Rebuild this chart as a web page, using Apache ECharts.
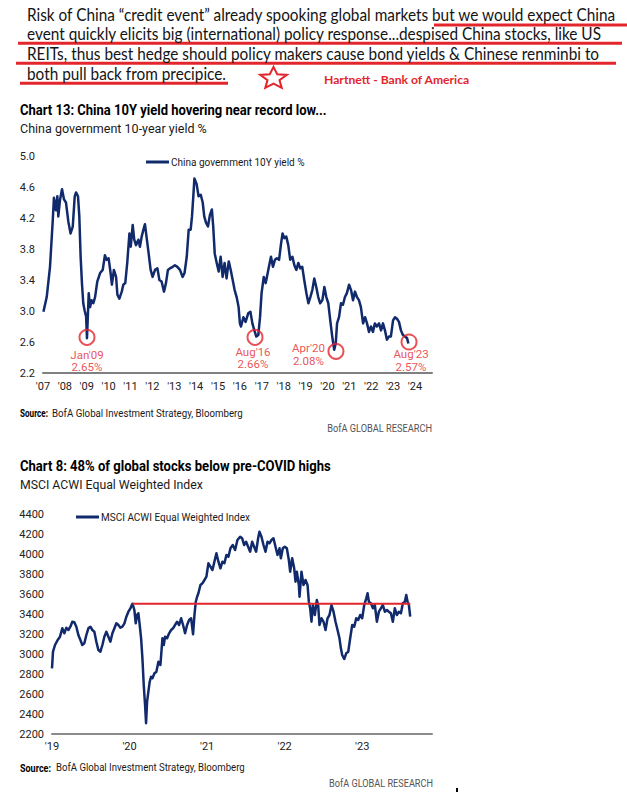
<!DOCTYPE html>
<html><head><meta charset="utf-8">
<script src="https://cdn.jsdelivr.net/npm/echarts@6/dist/echarts.min.js"></script>
<style>html,body{margin:0;padding:0;background:#fff}#c{width:627px;height:792px}</style>
</head><body><div id="c"></div>
<script>
// ---------- text ----------
const headlineLines = [
  'Risk of China \u201ccredit event\u201d already spooking global markets but we would expect China',
  'event quickly elicits big (international) policy response...despised China stocks, like US',
  'REITs, thus best hedge should policy makers cause bond yields & Chinese renminbi to',
  'both pull back from precipice.'
];
const attribution = 'Hartnett - Bank of America';
const chart13Title = 'Chart 13: China 10Y yield hovering near record low...';
const chart13Subtitle = 'China government 10-year yield %';
const chart13Series = 'China government 10Y yield %';
const chart8Title = 'Chart 8: 48% of global stocks below pre-COVID highs';
const chart8Subtitle = 'MSCI ACWI Equal Weighted Index';
const chart8Series = 'MSCI ACWI Equal Weighted Index';
const sourceLabel = 'Source:';
const sourceText = 'BofA Global Investment Strategy, Bloomberg';
const brandText = 'BofA GLOBAL RESEARCH';

// ---------- Chart 13 data (decimal year, %) ----------
const yieldTimes = [2007.02,2007.17,2007.32,2007.44,2007.50,2007.59,2007.655,2007.70,2007.78,2007.87,2007.96,2008.05,2008.16,2008.26,2008.36,2008.45,2008.51,2008.60,2008.66,2008.72,2008.78,2008.84,2008.90,2008.97,2009.01,2009.09,2009.15,2009.22,2009.30,2009.38,2009.48,2009.61,2009.73,2009.83,2009.91,2010.00,2010.09,2010.15,2010.24,2010.34,2010.40,2010.49,2010.60,2010.67,2010.76,2010.85,2010.95,2011.01,2011.10,2011.17,2011.25,2011.36,2011.43,2011.51,2011.59,2011.66,2011.74,2011.83,2011.92,2012.01,2012.12,2012.23,2012.32,2012.42,2012.53,2012.62,2012.71,2012.80,2012.93,2013.03,2013.14,2013.26,2013.38,2013.47,2013.57,2013.66,2013.75,2013.81,2013.87,2013.92,2014.02,2014.11,2014.21,2014.30,2014.37,2014.45,2014.54,2014.63,2014.72,2014.78,2014.85,2014.94,2015.03,2015.12,2015.21,2015.30,2015.39,2015.49,2015.58,2015.67,2015.76,2015.85,2015.94,2016.00,2016.05,2016.16,2016.26,2016.38,2016.48,2016.57,2016.66,2016.75,2016.84,2016.92,2016.99,2017.09,2017.18,2017.27,2017.36,2017.42,2017.51,2017.60,2017.69,2017.79,2017.88,2017.95,2018.03,2018.12,2018.21,2018.30,2018.40,2018.49,2018.58,2018.67,2018.76,2018.85,2018.94,2019.04,2019.13,2019.22,2019.31,2019.40,2019.49,2019.58,2019.67,2019.77,2019.86,2019.95,2020.04,2020.13,2020.22,2020.31,2020.38,2020.44,2020.53,2020.62,2020.71,2020.80,2020.89,2020.99,2021.08,2021.17,2021.26,2021.35,2021.44,2021.53,2021.63,2021.72,2021.81,2021.90,2021.99,2022.08,2022.17,2022.26,2022.36,2022.45,2022.54,2022.63,2022.72,2022.81,2022.90,2023.00,2023.09,2023.18,2023.27,2023.36,2023.45,2023.54,2023.64,2023.70];
const yieldValues = [2.99,3.18,3.57,4.14,4.46,4.30,4.48,4.22,4.44,4.57,4.44,4.40,4.15,4.00,4.09,4.48,4.53,4.48,4.22,3.70,3.36,3.10,3.01,2.93,2.65,3.23,3.05,3.14,3.10,3.18,3.38,3.49,3.53,3.72,3.66,3.68,3.49,3.34,3.53,3.44,3.21,3.16,3.25,3.34,3.36,3.62,4.00,3.83,4.11,3.92,3.85,3.92,3.83,3.96,4.05,4.12,3.94,3.74,3.53,3.44,3.53,3.55,3.40,3.38,3.25,3.36,3.53,3.55,3.57,3.59,3.57,3.53,3.44,3.49,3.70,4.05,4.05,4.22,4.48,4.71,4.64,4.48,4.50,4.40,4.22,4.14,4.09,4.24,4.31,4.09,3.74,3.62,3.51,3.70,3.44,3.62,3.42,3.64,3.53,3.40,3.27,3.18,3.05,2.84,2.80,2.92,2.86,2.97,2.99,2.84,2.75,2.67,2.69,2.92,3.23,3.44,3.36,3.49,3.62,3.70,3.57,3.66,3.68,3.66,3.87,4.00,3.94,3.96,3.85,3.66,3.70,3.59,3.53,3.62,3.55,3.57,3.40,3.23,3.10,3.18,3.27,3.42,3.31,3.18,3.10,3.14,3.31,3.18,3.10,2.88,2.67,2.50,2.58,2.84,2.92,3.10,3.08,3.18,3.23,3.34,3.27,3.14,3.25,3.18,3.14,3.05,2.84,2.92,2.84,2.73,2.80,2.73,2.84,2.80,2.84,2.75,2.84,2.75,2.63,2.67,2.67,2.88,2.92,2.90,2.86,2.75,2.69,2.67,2.65,2.58];
const yieldTickYears = [2007,2008,2009,2010,2011,2012,2013,2014,2015,2016,2017,2018,2019,2020,2021,2022,2023,2024];
const yieldTickValues = [2.2,2.6,3.0,3.4,3.8,4.2,4.6,5.0];
const yieldAxisMin = 2.2, yieldAxisMax = 5.0, yieldYearMin = 2007, yieldYearMax = 2024.78;
const lowTimes = [2009.01, 2016.69, 2020.39, 2023.73];
const lowValues = [2.66, 2.66, 2.48, 2.60];
const lowLabels = ["Jan'09\n2.65%", "Aug'16\n2.66%", "Apr'20\n2.08%", "Aug'23\n2.57%"];

// ---------- Chart 8 data (decimal year, index) ----------
const acwiTimes = [2019.000,2019.013,2019.039,2019.073,2019.103,2019.133,2019.159,2019.185,2019.211,2019.237,2019.262,2019.288,2019.314,2019.340,2019.366,2019.391,2019.417,2019.443,2019.469,2019.495,2019.520,2019.546,2019.572,2019.598,2019.624,2019.650,2019.675,2019.701,2019.727,2019.753,2019.779,2019.805,2019.830,2019.856,2019.882,2019.908,2019.934,2019.959,2019.985,2020.011,2020.037,2020.062,2020.080,2020.097,2020.114,2020.131,2020.149,2020.166,2020.183,2020.200,2020.213,2020.226,2020.243,2020.260,2020.277,2020.295,2020.321,2020.346,2020.372,2020.398,2020.424,2020.441,2020.458,2020.484,2020.510,2020.536,2020.561,2020.587,2020.613,2020.639,2020.665,2020.690,2020.716,2020.742,2020.768,2020.794,2020.819,2020.837,2020.854,2020.871,2020.888,2020.914,2020.940,2020.966,2020.991,2021.017,2021.043,2021.069,2021.094,2021.120,2021.146,2021.172,2021.198,2021.223,2021.249,2021.275,2021.301,2021.331,2021.361,2021.391,2021.426,2021.452,2021.477,2021.503,2021.529,2021.555,2021.581,2021.606,2021.632,2021.658,2021.675,2021.701,2021.727,2021.753,2021.779,2021.804,2021.830,2021.856,2021.882,2021.908,2021.934,2021.951,2021.976,2022.002,2022.028,2022.054,2022.071,2022.097,2022.123,2022.140,2022.157,2022.183,2022.192,2022.217,2022.243,2022.269,2022.295,2022.312,2022.329,2022.346,2022.363,2022.389,2022.415,2022.432,2022.449,2022.475,2022.501,2022.527,2022.553,2022.578,2022.604,2022.630,2022.656,2022.682,2022.707,2022.725,2022.742,2022.768,2022.794,2022.820,2022.845,2022.871,2022.897,2022.923,2022.948,2022.974,2023.000,2023.026,2023.052,2023.069,2023.086,2023.112,2023.138,2023.163,2023.189,2023.215,2023.241,2023.266,2023.292,2023.318,2023.344,2023.370,2023.395,2023.421,2023.447,2023.473,2023.499,2023.524,2023.550,2023.568,2023.585,2023.602,2023.619];
const acwiValues = [2857,3023,3090,3140,3173,3257,3207,3263,3240,3273,3323,3317,3273,3190,3140,3090,3107,3190,3257,3273,3240,3223,3123,3040,3023,3090,3173,3223,3173,3123,3207,3257,3307,3290,3263,3273,3307,3373,3423,3457,3503,3440,3307,3390,3407,3290,3157,2957,2690,2490,2307,2523,2623,2723,2773,2757,2807,2823,2923,2890,3157,3090,3173,3157,3207,3240,3257,3290,3323,3290,3357,3290,3207,3290,3340,3357,3197,3390,3523,3573,3607,3690,3707,3740,3773,3907,3873,3840,3923,4007,3923,3857,3923,3907,3990,3973,4057,4090,4040,4140,4173,4157,4090,4123,4073,4023,4123,4073,4023,4157,4223,4173,4090,4023,4123,4107,4140,4157,4073,3990,4057,3957,4057,4073,4057,3940,3823,3957,3857,3723,3823,3690,3573,3823,3690,3740,3690,3523,3457,3323,3490,3390,3540,3490,3290,3357,3323,3240,3357,3390,3490,3423,3323,3240,3157,3057,2990,2950,3007,3023,3157,3290,3273,3357,3340,3390,3357,3490,3557,3607,3523,3507,3457,3490,3323,3423,3457,3490,3423,3440,3423,3407,3323,3457,3390,3423,3407,3507,3523,3590,3523,3490,3373];
const acwiTickYears = [2019,2020,2021,2022,2023];
const acwiTickValues = [2200,2400,2600,2800,3000,3200,3400,3600,3800,4000,4200,4400];
const acwiAxisMin = 2200, acwiAxisMax = 4400, acwiYearMin = 2019, acwiYearMax = 2023.9;
const preCovidHighTimes = [2020.04, 2023.62];
const preCovidHighValue = 3503;

// ---------- styling ----------
const HEAD_FONT = 'Lato, "Open Sans", sans-serif';
const CHART_FONT = 'Roboto, "Liberation Sans", sans-serif';
const NAVY = '#112a6c';
const RED = '#e3262c';
const ctx = document.createElement('canvas').getContext('2d');
function measure(text, family, weight, size) {
  ctx.font = weight + ' ' + size + 'px ' + family;
  return ctx.measureText(text).width;
}
// text drawn at a given size, squeezed horizontally to the reference width
function stxt(x, y, text, family, weight, size, width, o) {
  const sx = width / measure(text, family, weight, size);
  return { type: 'text', x: x, y: y, scaleX: sx, scaleY: 1, silent: true, z: 10,
    style: Object.assign({ text: text, fontSize: size, fontFamily: family, fontWeight: weight,
      fill: '#000', align: 'left', verticalAlign: 'middle' }, o || {}) };
}
function hline(x1, x2, y, w, c) {
  return { type: 'line', silent: true, shape: { x1: x1, y1: y, x2: x2, y2: y }, style: { stroke: c, lineWidth: w } };
}
function starPoints(cx, cy, rx, ry, ratio) {
  const p = [];
  for (let i = 0; i < 10; i++) {
    const a = -Math.PI / 2 + i * Math.PI / 5;
    const k = i % 2 ? ratio : 1;
    p.push([cx + Math.cos(a) * rx * k, cy + Math.sin(a) * ry * k]);
  }
  return p;
}

const headY = [14.2, 33.4, 53.3, 72.9];
const headW = [590, 575, 573, 199];
const graphics = [];
const headSx = 590 / measure(headlineLines[0], HEAD_FONT, 'normal', 16.5);
headlineLines.forEach((l, i) => graphics.push({ type: 'text', x: 27, y: headY[i], scaleX: headSx, silent: true, z: 10,
  style: { text: l, fontSize: 16.5, fontFamily: HEAD_FONT, fill: '#141414', align: 'left', verticalAlign: 'middle' } }));
graphics.push(hline(434, 627, 25, 3, RED));
graphics.push(hline(18, 622, 43.3, 3, RED));
graphics.push(hline(16, 616, 63.3, 3, RED));
graphics.push(hline(20, 228, 83.3, 3, RED));
graphics.push({ type: 'polygon', silent: true, shape: { points: starPoints(273.5, 78.5, 14, 11.6, 0.45) },
  style: { fill: 'none', stroke: RED, lineWidth: 2 } });
graphics.push(stxt(324, 79.3, attribution, HEAD_FONT, 'bold', 11, 146, { fill: RED }));

// chart 13 texts
graphics.push(stxt(20, 110, chart13Title, CHART_FONT, 'bold', 14.5, 307));
graphics.push(stxt(20, 128.8, chart13Subtitle, CHART_FONT, 'normal', 13.5, 187, { fill: '#1a1a1a' }));
graphics.push(stxt(20, 413.3, sourceLabel, CHART_FONT, 'bold', 11, 28));
graphics.push(stxt(52, 413.3, sourceText, CHART_FONT, 'normal', 11, 191, { fill: '#1a1a1a' }));
graphics.push(stxt(432, 428, brandText, CHART_FONT, 'normal', 10.5, 105, { fill: '#555', align: 'right' }));
// chart 8 texts
graphics.push(stxt(20, 465.3, chart8Title, CHART_FONT, 'bold', 14.5, 311));
graphics.push(stxt(20, 483.8, chart8Subtitle, CHART_FONT, 'normal', 13.5, 183, { fill: '#1a1a1a' }));
graphics.push(stxt(20, 767.7, sourceLabel, CHART_FONT, 'bold', 11, 31));
graphics.push(stxt(56, 767.7, sourceText, CHART_FONT, 'normal', 11, 189, { fill: '#1a1a1a' }));
graphics.push(stxt(433, 783, brandText, CHART_FONT, 'normal', 10.5, 104, { fill: '#555', align: 'right' }));
graphics.push({ type: 'rect', silent: true, shape: { x: 456, y: 788, width: 2, height: 4 }, style: { fill: '#000' } });

const lowOffsets = [[0, 23.5], [-2, 20.4], [-27.5, 3], [2, 18.5]];
const axisLabelBase = { fontFamily: CHART_FONT, fontSize: 11, color: '#222' };
const legendFont = { fontFamily: CHART_FONT, fontSize: 10, color: '#1a1a1a' };

const option = {
  animation: false,
  backgroundColor: '#fff',
  graphic: graphics,
  legend: [
    { data: [chart13Series], left: 146, top: 157, itemWidth: 23, itemHeight: 3, itemGap: 0, icon: 'rect', padding: 0,
      textStyle: Object.assign({ padding: [0, 0, 0, -3] }, legendFont) },
    { data: [chart8Series], left: 76, top: 512, itemWidth: 23, itemHeight: 3, itemGap: 0, icon: 'rect', padding: 0,
      textStyle: Object.assign({ padding: [0, 0, 0, -3] }, legendFont) }
  ],
  grid: [
    { left: 43, top: 156, width: 389, height: 217, containLabel: false, outerBoundsMode: 'none' },
    { left: 52, top: 514, width: 380, height: 220, containLabel: false, outerBoundsMode: 'none' }
  ],
  xAxis: [
    { type: 'value', gridIndex: 0, min: yieldYearMin, max: yieldYearMax,
      axisLine: { show: true, onZero: false, lineStyle: { color: '#808080', width: 2 } },
      axisTick: { show: false }, splitLine: { show: false },
      axisLabel: Object.assign({ customValues: yieldTickYears, margin: 8,
        formatter: v => "'" + String(Math.round(v)).slice(2) }, axisLabelBase) },
    { type: 'value', gridIndex: 1, min: acwiYearMin, max: acwiYearMax,
      axisLine: { show: true, onZero: false, lineStyle: { color: '#8a8a8a', width: 2 } },
      axisTick: { show: false }, splitLine: { show: false },
      axisLabel: Object.assign({ customValues: acwiTickYears, margin: 7,
        formatter: v => "'" + String(Math.round(v)).slice(2) }, axisLabelBase) }
  ],
  yAxis: [
    { type: 'value', gridIndex: 0, min: yieldAxisMin, max: yieldAxisMax,
      axisLine: { show: false }, axisTick: { show: false }, splitLine: { show: false },
      axisLabel: Object.assign({ customValues: yieldTickValues, margin: 8, formatter: v => v.toFixed(1) }, axisLabelBase) },
    { type: 'value', gridIndex: 1, min: acwiAxisMin, max: acwiAxisMax,
      axisLine: { show: false }, axisTick: { show: false }, splitLine: { show: false },
      axisLabel: Object.assign({ customValues: acwiTickValues, margin: 8, formatter: v => String(v) }, axisLabelBase) }
  ],
  series: [
    { name: chart13Series, type: 'line', xAxisIndex: 0, yAxisIndex: 0, showSymbol: false, symbol: 'none',
      data: yieldTimes.map((t, i) => [t, yieldValues[i]]),
      lineStyle: { color: NAVY, width: 2.5, join: 'round' }, itemStyle: { color: NAVY } },
    { name: 'lows', type: 'scatter', xAxisIndex: 0, yAxisIndex: 0, symbol: 'circle', symbolSize: 15, z: 5,
      itemStyle: { color: 'rgba(0,0,0,0)', borderColor: RED, borderWidth: 2 },
      label: { show: true, position: 'inside', color: RED, fontFamily: CHART_FONT, fontSize: 11.5, lineHeight: 12.5, align: 'center' },
      data: lowTimes.map((t, i) => ({ value: [t, lowValues[i]],
        label: { formatter: lowLabels[i], offset: lowOffsets[i] } })) },
    { name: chart8Series, type: 'line', xAxisIndex: 1, yAxisIndex: 1, showSymbol: false, symbol: 'none',
      data: acwiTimes.map((t, i) => [t, acwiValues[i]]),
      lineStyle: { color: NAVY, width: 2.5, join: 'round' }, itemStyle: { color: NAVY } },
    { name: 'pre-COVID high', type: 'line', xAxisIndex: 1, yAxisIndex: 1, showSymbol: false, symbol: 'none', z: 4,
      data: preCovidHighTimes.map(t => [t, preCovidHighValue]),
      lineStyle: { color: RED, width: 2 } }
  ]
};
const chart = echarts.init(document.getElementById('c'), null, { renderer: 'svg', width: 627, height: 792 });
chart.setOption(option);
</script></body></html>
